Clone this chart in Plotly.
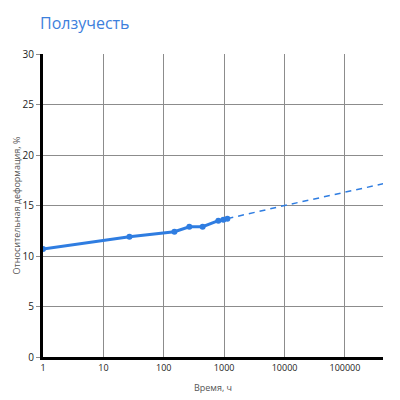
import plotly.graph_objects as go

# measured creep points
hours = [1, 27, 150, 265, 440, 800, 970, 1130]
strain = [10.7, 11.9, 12.4, 12.9, 12.9, 13.5, 13.6, 13.7]

# extrapolation
hours_ext = [1130, 10000, 430000]
strain_ext = [13.7, 15.0, 17.15]

x_ticks = [1, 10, 100, 1000, 10000, 100000]
x_labels = ["1", "10", "100", "1000", "10000", "100000"]
y_ticks = [0, 5, 10, 15, 20, 25, 30]

blue = "#2f7de1"

fig = go.Figure()

fig.add_trace(go.Scatter(
    x=hours_ext, y=strain_ext,
    mode="lines",
    line=dict(color=blue, width=1.5, dash="6px,5px"),
    hoverinfo="skip"
))

fig.add_trace(go.Scatter(
    x=hours, y=strain,
    mode="lines+markers",
    line=dict(color=blue, width=3),
    marker=dict(color=blue, size=6)
))

fig.update_layout(
    width=400, height=400,
    margin=dict(l=35, r=25, t=46, b=51),
    paper_bgcolor="white",
    plot_bgcolor="white",
    showlegend=False,
    font=dict(family="Open Sans", size=10, color="#333333"),
    title=dict(
        text="Ползучесть",
        x=0.08, xanchor="left",
        y=0.975, yanchor="top",
        font=dict(family="Open Sans", size=16, color="#3d80dc")
    ),
    xaxis=dict(
        type="log",
        range=[0, 5.63],
        tickvals=x_ticks,
        ticktext=x_labels,
        automargin=False,
        showgrid=True,
        gridcolor="#8c8c8c",
        gridwidth=1,
        showline=True,
        linecolor="black",
        linewidth=3,
        ticks="",
        tickfont=dict(size=9, color="#222222"),
        title=dict(text="Время, ч", font=dict(size=9, color="#555555"), standoff=12),
        zeroline=False
    ),
    yaxis=dict(
        range=[0, 30],
        tickvals=y_ticks,
        automargin=False,
        showgrid=True,
        gridcolor="#8c8c8c",
        gridwidth=1,
        showline=True,
        linecolor="black",
        linewidth=3,
        ticks="outside",
        ticklen=4,
        tickcolor="#8c8c8c",
        tickfont=dict(size=10, color="#222222"),
        title=dict(text="Относительная деформация, %", font=dict(size=9, color="#555555"), standoff=0),
        zeroline=False
    )
)

fig.write_html("out.html")
